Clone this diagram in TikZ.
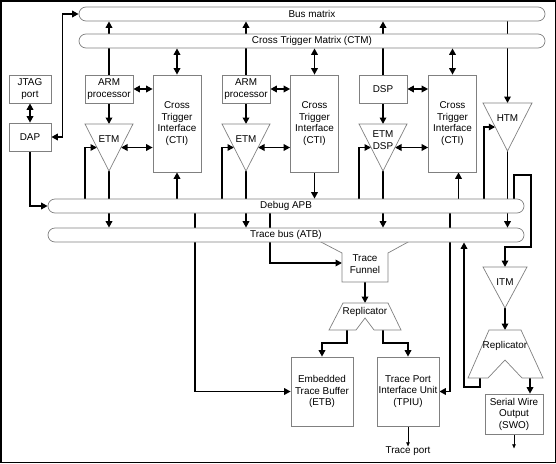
\documentclass[tikz,border=0pt]{standalone}
\usepackage{fontspec}
\setmainfont{Liberation Sans}
\usetikzlibrary{arrows.meta,calc}
\pgfdeclarelayer{bg}
\pgfsetlayers{bg,main}
\newcommand{\dfont}{\fontsize{9.9}{11.5}\selectfont}
\newcommand{\mytri}[5]{%
  \draw[trishape] ({#2-#5},#3) coordinate (#1-tl) -- ({#2+#5},#3) coordinate (#1-tr) -- (#2,#4) coordinate (#1-apex) -- cycle;
  \coordinate (#1-top) at (#2,#3);
  \coordinate (#1-l) at ($(#1-tl)!0.5!(#1-apex)$);
  \coordinate (#1-r) at ($(#1-tr)!0.5!(#1-apex)$);
}
\tikzset{
  box/.style={draw=black!50, fill=white, line width=0.7pt, inner sep=0pt, align=center, font=\dfont},
  bus/.style={draw=black!50, fill=white, line width=0.7pt, rounded corners=7pt, minimum height=14pt, inner sep=0pt, font=\dfont},
  trishape/.style={draw=black!50, fill=white, line width=0.7pt},
  lbl/.style={inner sep=0pt, align=center, font=\dfont},
  con/.style={line width=1.7pt, black},
  arr/.style={con, -{Triangle[length=6.5pt,width=6.5pt]}},
  darr/.style={con, {Triangle[length=6.5pt,width=6.5pt]}-{Triangle[length=6.5pt,width=6.5pt]}},
  thinarr/.style={line width=0.6pt, -{Triangle[length=4pt,width=3.5pt]}},
}
\begin{document}
\begin{tikzpicture}[x=1pt,y=-1pt]
\useasboundingbox (0,0) rectangle (556,463);

% trace funnel (drawn before buses)
\draw[trishape] (320,241.5) -- (342,253) -- (342,282) -- (388,282) -- (388,253) -- (409,241.5);
\node[lbl] (funnel) at (365,264) {Trace\\Funnel};
\coordinate (fun-w) at (342,263);
\coordinate (fun-s) at (365,282);

% buses
\node[bus, minimum width=466pt] (bm) at (312,14) {Bus matrix};
\node[bus, minimum width=466pt] (ctm) at (312,41) {Cross Trigger Matrix (CTM)};
\node[bus, minimum width=476pt] (apb) at (286,206) {Debug APB};
\node[bus, minimum width=476pt] (atb) at (286,235) {Trace bus (ATB)};

% boxes
\node[box, minimum width=42pt, minimum height=28pt] (jtag) at (30,89) {JTAG\\port};
\node[box, minimum width=42pt, minimum height=28pt] (dap) at (30,137) {DAP};
\node[box, minimum width=48pt, minimum height=28pt] (arm1) at (109,89) {ARM\\processor};
\node[box, minimum width=48pt, minimum height=97pt] (cti1) at (177,123.5) {Cross\\Trigger\\Interface\\(CTI)};
\node[box, minimum width=48pt, minimum height=28pt] (arm2) at (246,89) {ARM\\processor};
\node[box, minimum width=48pt, minimum height=97pt] (cti2) at (314.5,123.5) {Cross\\Trigger\\Interface\\(CTI)};
\node[box, minimum width=48pt, minimum height=28pt] (dsp) at (383,89) {DSP};
\node[box, minimum width=48pt, minimum height=97pt] (cti3) at (452.5,123.5) {Cross\\Trigger\\Interface\\(CTI)};
\node[box, minimum width=62pt, minimum height=69pt] (etb) at (322,391.5) {Embedded\\Trace Buffer\\(ETB)};
\node[box, minimum width=62pt, minimum height=69pt] (tpiu) at (408,391.5) {Trace Port\\Interface Unit\\(TPIU)};
\node[box, minimum width=58pt, minimum height=40pt] (swo) at (514,414) {Serial Wire\\Output\\(SWO)};

% triangles
\mytri{etm1}{109}{124}{171}{24}
\mytri{etm2}{246}{124}{171}{24}
\mytri{etmd}{383}{124}{171}{24}
\mytri{htm}{507.5}{103}{151}{24.5}
\mytri{itm}{505}{267}{308}{22}
\node[lbl] (etm1lab) at (109,139) {ETM};
\node[lbl] (etm2lab) at (246,139) {ETM};
\node[lbl] (etmdlab) at (383,140) {ETM\\DSP};
\node[lbl] (htmlab) at (507.5,118) {HTM};
\node[lbl] (itmlab) at (505,282) {ITM};

% replicators
\draw[trishape] (343,303) -- (388,303) -- (401,330) -- (374,330) -- (365,318) -- (356,330) -- (329,330) -- cycle;
\node[lbl] (rep1) at (365,312) {Replicator};
\coordinate (rep1-n) at (365,303);
\coordinate (rep1-l) at (347,330);
\coordinate (rep1-r) at (383,330);
\draw[trishape] (489,330) -- (521,330) -- (543,378) -- (522,378) -- (505,360) -- (488,378) -- (468,378) -- cycle;
\node[lbl] (rep2) at (505,346) {Replicator};
\coordinate (rep2-n) at (505,330);
\coordinate (rep2-l) at (480,378);
\coordinate (rep2-r) at (530,378);

\node[lbl] (tport) at (408,451) {Trace port};

\coordinate (x195) at (195,0);
\coordinate (x270) at (270,0);
\coordinate (x450) at (450,0);
\coordinate (x464) at (464,0);
\coordinate (x484) at (484,0);
\coordinate (x514) at (514,0);
\coordinate (c3s) at ([xshift=6pt]cti3.south);

\begin{pgfonlayer}{bg}
\draw[darr] (jtag.south) -- (dap.north);
\draw[darr] (dap.east) -- ++(11,0) |- (bm.west);
\draw[arr] (dap.south) |- (apb.west);
\foreach \a in {arm1,arm2,dsp} \draw[arr] (\a.north) -- (\a.north |- bm.south);
\draw[arr] (htm-top |- bm.south) -- (htm-top);
\foreach \c in {cti1,cti2,cti3} \draw[darr] (\c.north) -- (\c.north |- ctm.south);
% core 1
\draw[darr] (arm1.east) -- (arm1.east -| cti1.west);
\draw[arr] (arm1.south) -- (etm1-top);
\draw[darr] (etm1-r) -- (etm1-r -| cti1.west);
\draw[arr] (arm1.west |- apb.north) |- (etm1-l);
\draw[arr] (etm1-apex) -- (etm1-apex |- atb.north);
\draw[arr] (cti1.south |- apb.north) -- (cti1.south);
% core 2
\draw[darr] (arm2.east) -- (arm2.east -| cti2.west);
\draw[arr] (arm2.south) -- (etm2-top);
\draw[darr] (etm2-r) -- (etm2-r -| cti2.west);
\draw[arr] (arm2.west |- apb.north) |- (etm2-l);
\draw[arr] (etm2-apex) -- (etm2-apex |- atb.north);
\draw[arr] (cti2.south) -- (cti2.south |- apb.north);
% dsp
\draw[darr] (dsp.east) -- (dsp.east -| cti3.west);
\draw[arr] (dsp.south) -- (etmd-top);
\draw[darr] (etmd-r) -- (etmd-r -| cti3.west);
\draw[arr] (dsp.west |- apb.north) |- (etmd-l);
\draw[arr] (etmd-apex) -- (etmd-apex |- atb.north);
\draw[arr] (c3s |- apb.north) -- (c3s);
% htm / itm
\draw[arr] (apb.north -| x484) |- (htm-l);
\draw[arr] (htm-apex) -- (htm-apex |- atb.north);
\draw[arr] (apb.north -| x514) -- ++(0,-24) -- ++(17,0) -- ++(0,72) -| (itm-top);
\draw[arr] (itm-apex) -- (rep2-n);
\draw[arr] (rep2-l) -- ++(0,9) -| (atb.south -| x464);
\draw[arr] (rep2-r) -- (rep2-r |- swo.north);
% lower
\draw[arr] (apb.south -| x195) |- (etb.west);
\draw[arr] (apb.south -| x270) |- (fun-w);
\draw[arr] (apb.south -| x450) |- (tpiu.east);
\draw[arr] (fun-s) -- (rep1-n);
\draw[arr] (rep1-l) -- ++(0,13) -| (etb.north);
\draw[arr] (rep1-r) -- ++(0,13) -| (tpiu.north);
\draw[thinarr] (tpiu.south) -- (tport.north);
\draw[thinarr] (swo.south) -- ++(0,14);
\end{pgfonlayer}

\draw[line width=1.5pt] (0.75,0.75) rectangle (555.25,462.25);
\end{tikzpicture}
\end{document}
